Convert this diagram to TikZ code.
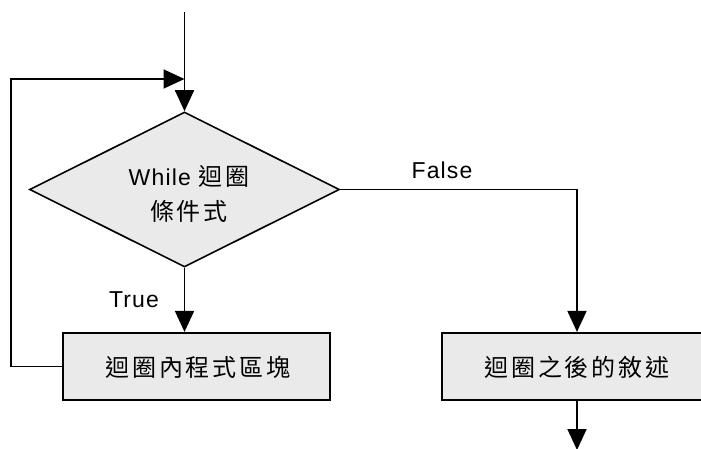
\documentclass[tikz,border=0pt]{standalone}
\usepackage{fontspec}
\setmainfont{Liberation Sans}[LetterSpace=5]
\newfontfamily\cjk{Noto Sans CJK TC}[LetterSpace=12]
\usetikzlibrary{arrows.meta,shapes.geometric}
\definecolor{boxfill}{RGB}{234,234,234}
\tikzset{
  every node/.style={font=\fontsize{23}{35}\selectfont},
  flow/.style={line width=1.8pt,-{Triangle[length=21pt,width=19pt]}},
  decision/.style={diamond,draw,line width=1.6pt,fill=boxfill,inner sep=0pt,minimum width=310pt,minimum height=155pt},
  stepbox/.style={rectangle,draw,line width=2.2pt,fill=boxfill,inner sep=0pt,minimum width=267pt,minimum height=67pt},
  cjktext/.style={font=\fontsize{24}{35}\selectfont\cjk},
}
\begin{document}
\begin{tikzpicture}[x=1pt,y=-1pt]
\useasboundingbox (0,0) rectangle (701,448);
\clip (0,0) rectangle (701,448);
\coordinate (top) at (184.5,12);
\coordinate (join) at (184.5,79);
\coordinate (leftup) at (11,79);
\coordinate (bottom) at (577,450);
\node[decision] (cond) at (184.5,189.5) {};
\node[align=center] (condtext) at (189,194) {While {\fontsize{24}{35}\selectfont\cjk 迴圈}\\{\fontsize{24}{35}\selectfont\cjk 條件式}};
\node[stepbox] (body) at (196.5,366.5) {};
\node[cjktext] (bodytext) at (198,367) {迴圈內程式區塊};
\node[stepbox,minimum width=270pt] (after) at (577,366.5) {};
\node[cjktext] (aftertext) at (577,367) {迴圈之後的敘述};
\node[anchor=base] (truelbl) at (134,307) {True};
\node[anchor=base] (falselbl) at (442,178) {False};
\draw[flow] (top) -- (cond.north);
\draw[flow] (body.west) -| (leftup) -- (join);
\draw[flow] (cond.south) -- (cond.south |- body.north);
\draw[flow] (cond.east) -| (after.north);
\draw[flow] (after.south) -- (bottom);
\end{tikzpicture}
\end{document}
